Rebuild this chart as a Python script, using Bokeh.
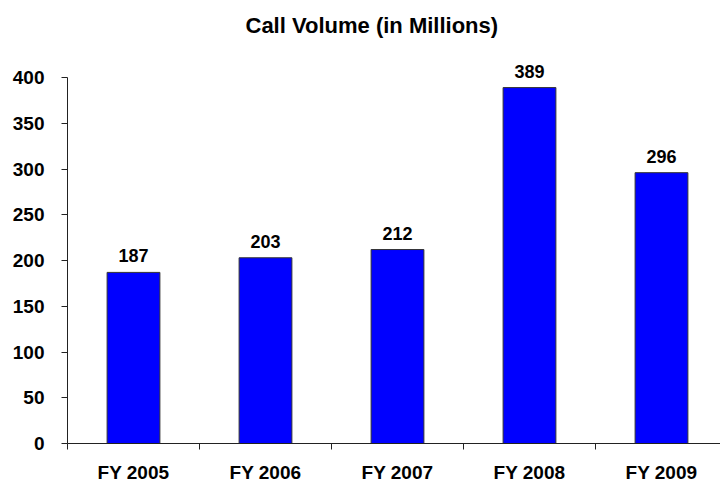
from bokeh.plotting import figure
from bokeh.models import Range1d, FixedTicker, ColumnDataSource, LabelSet
from bokeh.core.properties import value
from bokeh.embed import file_html
from bokeh.resources import INLINE

categories = ["FY 2005", "FY 2006", "FY 2007", "FY 2008", "FY 2009"]
values = [187, 203, 212, 389, 296]
y_ticks = [0, 50, 100, 150, 200, 250, 300, 350, 400]

FONT = "Liberation Sans"

xs = [i + 0.5 for i in range(len(categories))]
src = ColumnDataSource(dict(x=xs, top=values, label=[str(v) for v in values]))

p = figure(frame_width=653, frame_height=398, output_backend="svg", toolbar_location=None,
           x_range=Range1d(0, 653 / 132), y_range=Range1d(0, 435),
           min_border_left=67, min_border_right=0, min_border_top=45, min_border_bottom=40)

p.title.text = "Call Volume (in Millions)"
p.title.text_font = FONT
p.title.text_font_size = "22px"
p.title.text_font_style = "bold"
p.title.text_color = "black"
p.title.align = "left"
p.title.offset = 178
p.title.standoff = 16

p.vbar(x="x", top="top", width=0.4, bottom=0, source=src,
       fill_color="#0000FF", line_color="#333333", line_width=1)

labels = LabelSet(x="x", y="top", text="label", source=src, y_offset=10,
                  text_align="center", text_baseline="alphabetic",
                  text_font=value(FONT), text_font_size="18px", text_font_style="bold",
                  text_color="black")
p.add_layout(labels)

p.xgrid.visible = False
p.ygrid.visible = False
p.outline_line_color = None
p.background_fill_color = "white"
p.border_fill_color = "white"

xa = p.xaxis[0]
xa.ticker = FixedTicker(ticks=xs, minor_ticks=list(range(len(categories) + 1)))
xa.major_label_overrides = {x: c for x, c in zip(xs, categories)}
xa.major_tick_out = 0
xa.major_tick_in = 0
xa.minor_tick_out = 6
xa.minor_tick_in = 0
xa.minor_tick_line_color = "#222222"
xa.axis_line_color = "#222222"
xa.major_label_standoff = 12
xa.major_label_text_font = FONT
xa.major_label_text_font_size = "19px"
xa.major_label_text_font_style = "bold"
xa.major_label_text_color = "black"

ya = p.yaxis[0]
ya.bounds = (0, 400)
ya.ticker = FixedTicker(ticks=y_ticks, minor_ticks=[])
ya.major_tick_out = 6
ya.major_tick_in = 0
ya.major_tick_line_color = "#222222"
ya.axis_line_color = "#222222"
ya.major_label_standoff = 17
ya.major_label_text_font = FONT
ya.major_label_text_font_size = "19px"
ya.major_label_text_font_style = "bold"
ya.major_label_text_color = "black"

open("out.html", "w").write(file_html(p, INLINE))
